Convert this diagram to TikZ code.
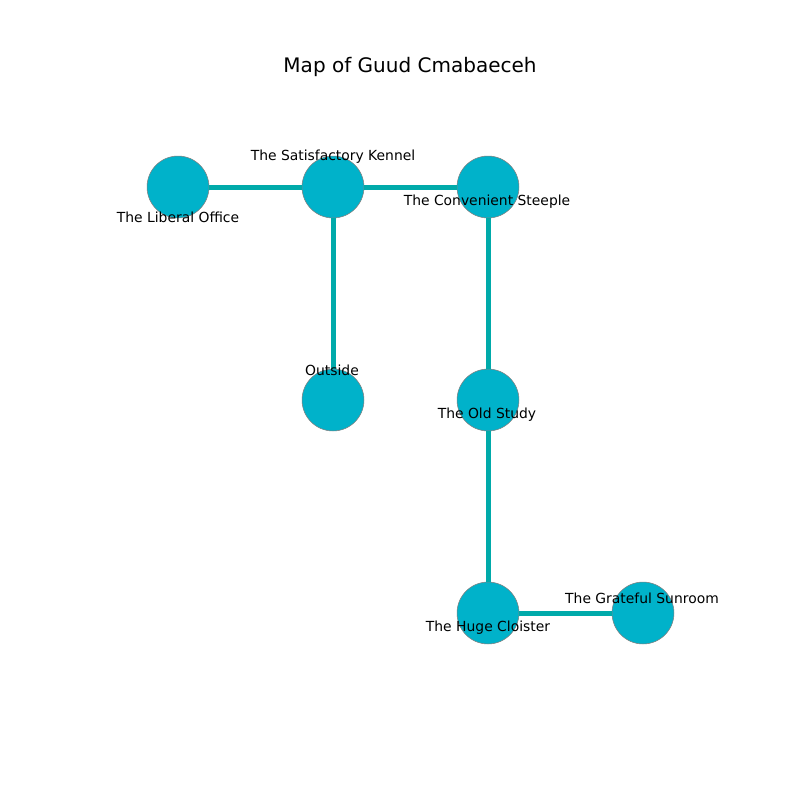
\documentclass[tikz,border=0pt]{standalone}
\usepackage{fontspec}
\setmainfont{DejaVu Sans}
\definecolor{roomfill}{RGB}{0,178,202}
\definecolor{pathcol}{RGB}{0,170,170}

\begin{document}
\begin{tikzpicture}[x = 0.72pt, y = -0.72pt,
	room/.style = {circle, fill = roomfill, draw = gray, line width = 0.4pt, minimum size = 44.6pt, inner sep = 0pt},
	passage/.style = {draw = pathcol, line width = 3.6pt},
	roomname/.style = {font = \fontsize{10}{12}\selectfont, inner sep = 0pt}]
	\useasboundingbox (0,0) rectangle (800,800);
	\node[font = \fontsize{14.4}{17}\selectfont] (title) at (410,67) {Map of Guud Cmabaeceh};
	% rooms
	\node[room] (office) at (178,187) {};
	\node[room] (kennel) at (333,187) {};
	\node[room] (steeple) at (488,187) {};
	\node[room] (outside) at (333,400) {};
	\node[room] (study) at (488,400) {};
	\node[room] (cloister) at (488,613) {};
	\node[room] (sunroom) at (643,613) {};
	% passages
	\draw[passage] (office) -- (kennel);
	\draw[passage] (kennel) -- (steeple);
	\draw[passage] (kennel) -- (outside);
	\draw[passage] (steeple) -- (study);
	\draw[passage] (study) -- (cloister);
	\draw[passage] (cloister) -- (sunroom);
	% names
	\node[roomname] (officename) at (178,217) {The Liberal Office};
	\node[roomname] (kennelname) at (333,157) {The Satisfactory Kennel};
	\node[roomname] (steeplename) at (487,202) {The Convenient Steeple};
	\node[roomname] (outsidename) at (332,370) {Outside};
	\node[roomname] (studyname) at (487,415) {The Old Study};
	\node[roomname] (cloistername) at (488,628) {The Huge Cloister};
	\node[roomname] (sunroomname) at (642,598) {The Grateful Sunroom};
\end{tikzpicture}
\end{document}
